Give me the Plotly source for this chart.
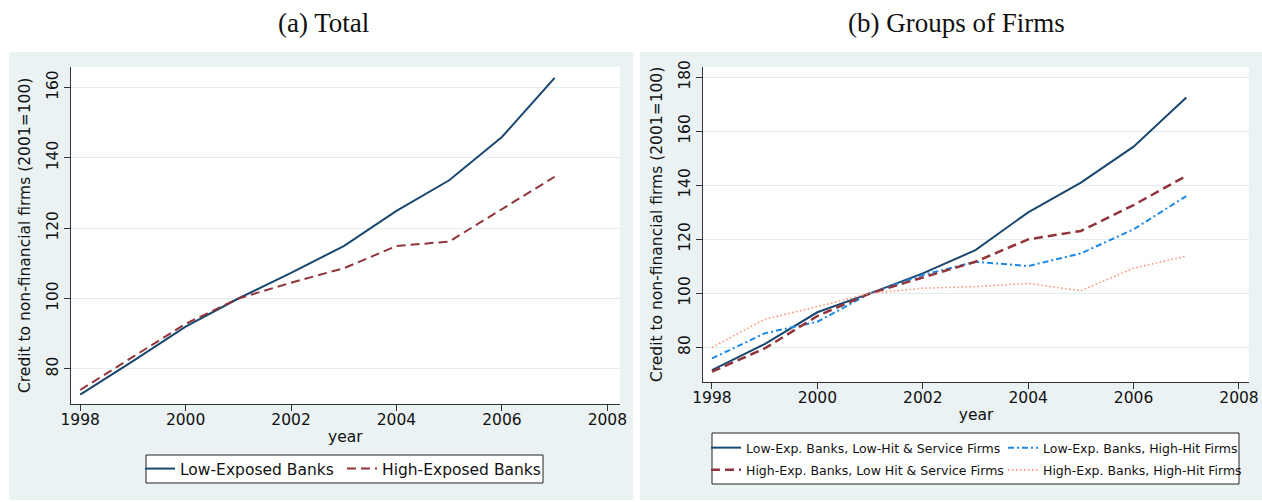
import plotly.graph_objects as go

W, H = 1262, 502

# ---------------- data ----------------
years = [1998, 1999, 2000, 2001, 2002, 2003, 2004, 2005, 2006, 2007]

# panel (a) Total
low_exposed = [72.7, 82.2, 92.0, 100.0, 107.3, 114.9, 124.9, 133.6, 145.9, 162.7]
high_exposed = [74.0, 83.3, 92.8, 100.0, 104.5, 108.6, 114.9, 116.2, 125.5, 134.6]

# panel (b) Groups of firms
lowexp_lowhit = [71.6, 81.2, 93.0, 100.0, 107.4, 116.0, 130.0, 141.0, 154.3, 172.5]
highexp_lowhit = [71.0, 79.6, 91.6, 100.0, 105.9, 111.7, 120.0, 123.1, 132.7, 143.5]
lowexp_highhit = [75.9, 85.2, 89.5, 100.0, 106.8, 111.7, 110.1, 114.8, 123.7, 136.0]
highexp_highhit = [80.0, 90.4, 95.1, 100.0, 101.9, 102.5, 103.7, 101.0, 109.3, 113.8]

x_ticks = [1998, 2000, 2002, 2004, 2006, 2008]
y_ticks_a = [80, 100, 120, 140, 160]
y_ticks_b = [80, 100, 120, 140, 160, 180]

panel_titles = ["(a) Total", "(b) Groups of Firms"]
y_title = "Credit to non-financial firms (2001=100)"
x_title = "year"

# ---------------- styling ----------------
NAVY = "#1a476f"
MAROON = "#90353b"
BLUE = "#1e88e5"
SALMON = "#fa8c6e"
BG = "#eaf2f3"
GRID = "#e4ecee"
FONT = "DejaVu Sans"


def X(px):
    return px / W


def Y(py):
    return 1 - py / H


fig = go.Figure()

# panel (a)
fig.add_trace(go.Scatter(x=years, y=low_exposed, mode="lines", name="Low-Exposed Banks",
                         line=dict(color=NAVY, width=2), xaxis="x", yaxis="y", legend="legend"))
fig.add_trace(go.Scatter(x=years, y=high_exposed, mode="lines", name="High-Exposed Banks",
                         line=dict(color=MAROON, width=2, dash="9px,5px"), xaxis="x", yaxis="y",
                         legend="legend"))

# panel (b)
fig.add_trace(go.Scatter(x=years, y=lowexp_lowhit, mode="lines",
                         name="Low-Exp. Banks, Low-Hit & Service Firms",
                         line=dict(color=NAVY, width=2), xaxis="x2", yaxis="y2", legend="legend2"))
fig.add_trace(go.Scatter(x=years, y=lowexp_highhit, mode="lines",
                         name="Low-Exp. Banks, High-Hit Firms",
                         line=dict(color=BLUE, width=2, dash="6px,3px,2px,3px"),
                         xaxis="x2", yaxis="y2", legend="legend2"))
fig.add_trace(go.Scatter(x=years, y=highexp_lowhit, mode="lines",
                         name="High-Exp. Banks, Low Hit & Service Firms",
                         line=dict(color=MAROON, width=2.5, dash="9px,5px"),
                         xaxis="x2", yaxis="y2", legend="legend3"))
fig.add_trace(go.Scatter(x=years, y=highexp_highhit, mode="lines",
                         name="High-Exp. Banks, High-Hit Firms",
                         line=dict(color=SALMON, width=1.5, dash="1.5px,2.5px"),
                         xaxis="x2", yaxis="y2", legend="legend3"))

axis_common = dict(
    showline=True, linecolor="#333333", linewidth=1,
    ticks="outside", ticklen=6, tickcolor="#333333", tickwidth=1,
    zeroline=False,
    tickfont=dict(family=FONT, size=15.5, color="#111111"),
)

fig.update_layout(
    width=W, height=H,
    margin=dict(l=0, r=0, t=0, b=0, autoexpand=False),
    paper_bgcolor="white",
    plot_bgcolor="rgba(0,0,0,0)",
    font=dict(family=FONT, color="#111111"),
    xaxis=dict(domain=[X(70.7), X(620)], range=[1997.82, 2008.24], tickvals=x_ticks,
               showgrid=False, anchor="y", ticklabelstandoff=-4,
               title=dict(text=x_title, standoff=2, font=dict(family=FONT, size=15.5)),
               **axis_common),
    yaxis=dict(domain=[Y(403.7), Y(67)], range=[70.1, 165.8], tickvals=y_ticks_a,
               tickangle=-90, showgrid=True, gridcolor=GRID, gridwidth=1, anchor="x",
               title=dict(text=y_title, standoff=9, font=dict(family=FONT, size=15.5)),
               **axis_common),
    xaxis2=dict(domain=[X(703), X(1249)], range=[1997.83, 2008.19], tickvals=x_ticks,
                showgrid=False, anchor="y2", ticklabelstandoff=-4,
                title=dict(text=x_title, standoff=2, font=dict(family=FONT, size=15.5)),
                **axis_common),
    yaxis2=dict(domain=[Y(381.7), Y(67)], range=[67.3, 183.8], tickvals=y_ticks_b,
                tickangle=-90, showgrid=True, gridcolor=GRID, gridwidth=1, anchor="x2",
                title=dict(text=y_title, standoff=9, font=dict(family=FONT, size=15.5)),
                **axis_common),
    legend=dict(orientation="h", x=X(140), xanchor="left", y=Y(469), yanchor="middle",
                bgcolor="rgba(0,0,0,0)", borderwidth=0, entrywidth=157,
                font=dict(family=FONT, size=15.5, color="#111111")),
    legend2=dict(orientation="h", x=X(706), xanchor="left", y=Y(448), yanchor="middle",
                 bgcolor="rgba(0,0,0,0)", borderwidth=0, entrywidth=252,
                 font=dict(family=FONT, size=12.5, color="#111111")),
    legend3=dict(orientation="h", x=X(706), xanchor="left", y=Y(470), yanchor="middle",
                 bgcolor="rgba(0,0,0,0)", borderwidth=0, entrywidth=252,
                 font=dict(family=FONT, size=12.5, color="#111111")),
)

shapes = []
# graph-region backgrounds
shapes.append(dict(type="rect", xref="paper", yref="paper", x0=X(9), x1=X(633), y0=Y(500), y1=Y(52),
                   fillcolor=BG, line=dict(width=0), layer="below"))
shapes.append(dict(type="rect", xref="paper", yref="paper", x0=X(640), x1=X(1262), y0=Y(500), y1=Y(52),
                   fillcolor=BG, line=dict(width=0), layer="below"))
# white plot regions
shapes.append(dict(type="rect", xref="paper", yref="paper", x0=X(70.7), x1=X(620), y0=Y(403.7), y1=Y(67),
                   fillcolor="white", line=dict(width=0), layer="below"))
shapes.append(dict(type="rect", xref="paper", yref="paper", x0=X(703), x1=X(1249), y0=Y(381.7), y1=Y(67),
                   fillcolor="white", line=dict(width=0), layer="below"))
# legend boxes
shapes.append(dict(type="rect", xref="paper", yref="paper", x0=X(146), x1=X(543), y0=Y(483), y1=Y(455),
                   fillcolor="white", line=dict(width=1, color="#222222"), layer="below"))
shapes.append(dict(type="rect", xref="paper", yref="paper", x0=X(712), x1=X(1239), y0=Y(484), y1=Y(433),
                   fillcolor="white", line=dict(width=1, color="#222222"), layer="below"))
fig.update_layout(shapes=shapes)

# panel titles
for txt, cx in zip(panel_titles, [324, 956]):
    fig.add_annotation(text=txt, x=X(cx), y=Y(23), xref="paper", yref="paper",
                       xanchor="center", yanchor="middle", showarrow=False,
                       font=dict(family="Liberation Serif", size=27, color="#111111"))

fig.write_html(
    "out.html",
    config={"displayModeBar": False},
    post_script="document.body.style.margin='0px';document.body.style.overflow='hidden';",
)
